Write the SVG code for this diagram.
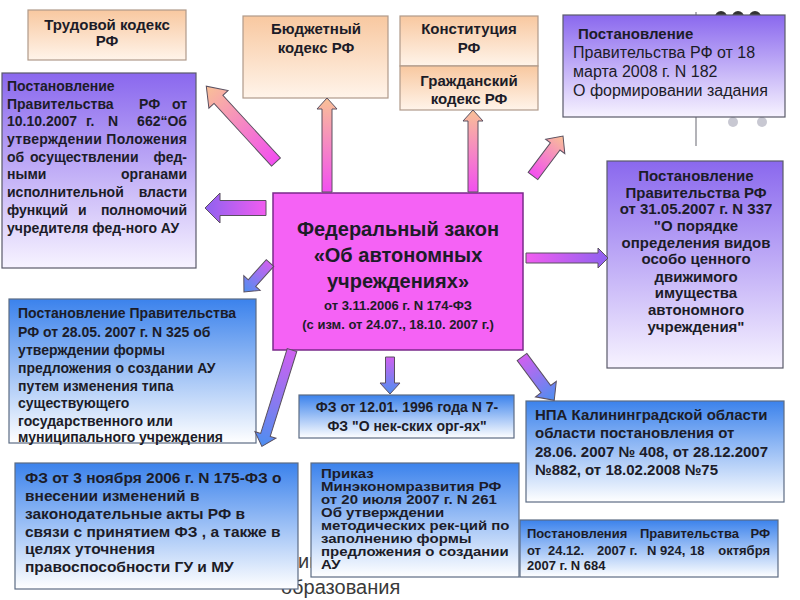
<svg xmlns="http://www.w3.org/2000/svg" width="800" height="600" viewBox="0 0 800 600">
<defs>
<linearGradient id="peach" x1="0" y1="0" x2="0" y2="1"><stop offset="0" stop-color="#f8c8a0"/><stop offset="1" stop-color="#fff4ea"/></linearGradient>
<linearGradient id="purple" x1="0" y1="0" x2="0" y2="1"><stop offset="0" stop-color="#8a68ee"/><stop offset="1" stop-color="#f7f3ff"/></linearGradient>
<linearGradient id="blue" x1="0" y1="0" x2="0" y2="1"><stop offset="0" stop-color="#3b82ec"/><stop offset="1" stop-color="#ffffff"/></linearGradient>
<linearGradient id="aPeach" x1="0" y1="0" x2="1" y2="0"><stop offset="0" stop-color="#f24ff0"/><stop offset="1" stop-color="#f9c196"/></linearGradient>
<linearGradient id="aPurp" x1="0" y1="0" x2="1" y2="0"><stop offset="0" stop-color="#f25cf0"/><stop offset="1" stop-color="#8e62f0"/></linearGradient>
<linearGradient id="aBlue" x1="0" y1="0" x2="1" y2="0"><stop offset="0" stop-color="#d060f0"/><stop offset="1" stop-color="#4d8ff0"/></linearGradient>
</defs>
<style>
text{font-family:"Liberation Sans",Arial,sans-serif;fill:#1c1c28;font-weight:bold}
text.n{font-weight:normal}
.pe{fill:url(#peach);stroke:#b09a8a;stroke-width:1.2}
.pu{fill:url(#purple);stroke:#5a5a6a;stroke-width:1.2}
.bl{fill:url(#blue);stroke:#5c6c84;stroke-width:1.2}
.c{text-anchor:middle}
.e{text-anchor:end}
.arr path{stroke:#5a5060;stroke-width:1}
text.bg{font-weight:normal;fill:#3a3a3a;font-size:20px}
</style>

<g id="background">
<line x1="696" y1="12" x2="696" y2="146" stroke="#9a9aa0" stroke-width="1.5"/>
<circle cx="721" cy="17" r="6" fill="#333"/>
<circle cx="738" cy="17" r="6" fill="#333"/>
<circle cx="755" cy="17" r="6" fill="#333"/>
<circle cx="733" cy="122" r="5" fill="#c8c8d2"/>
<circle cx="762" cy="122" r="5" fill="#c8c8d2"/>
<text class="bg" x="298" y="568">ии</text>
<text class="bg" x="281" y="594">образования</text>
</g>

<g id="trudovoy">
<rect class="pe" x="28" y="10" width="158" height="50"/>
<text class="c" x="107" y="30" font-size="15">Трудовой кодекс</text>
<text class="c" x="107" y="46" font-size="15">РФ</text>
</g>

<g id="byudzhet">
<rect class="pe" x="243" y="16" width="145" height="82"/>
<text class="c" x="316" y="34" font-size="15">Бюджетный</text>
<text class="c" x="316" y="53" font-size="15">кодекс РФ</text>
</g>

<g id="konstitutsiya">
<rect class="pe" x="400" y="16" width="138" height="50"/>
<text class="c" x="469" y="34" font-size="15">Конституция</text>
<text class="c" x="469" y="53" font-size="15">РФ</text>
</g>

<g id="grazhdansky">
<rect class="pe" x="400" y="66" width="138" height="44"/>
<text class="c" x="469" y="86" font-size="15">Гражданский</text>
<text class="c" x="469" y="104" font-size="15">кодекс РФ</text>
</g>

<g id="post182">
<rect class="pu" x="563" y="15" width="222" height="102"/>
<text x="578" y="39" font-size="15">Постановление</text>
<text class="n" x="573" y="58" font-size="16">Правительства РФ от 18</text>
<text class="n" x="573" y="77" font-size="16">марта 2008 г. N 182</text>
<text class="n" x="573" y="96" font-size="16">О формировании задания</text>
</g>

<g id="post662" font-size="14">
<rect class="pu" x="2" y="73" width="194" height="195"/>
<text x="7" y="91">Постановление</text>
<text x="7" y="109">Правительства</text><text x="139" y="109">РФ</text><text class="e" x="187" y="109">от</text>
<text x="7" y="126">10.10.2007</text><text x="86" y="126">г.</text><text x="108" y="126">N</text><text class="e" x="187" y="126">662“Об</text>
<text x="7" y="144" textLength="180" lengthAdjust="spacing">утверждении Положения</text>
<text x="7" y="162">об</text><text x="30" y="162">осуществлении</text><text class="e" x="187" y="162">фед-</text>
<text x="7" y="179">ными</text><text class="e" x="187" y="179">органами</text>
<text x="7" y="197">исполнительной</text><text class="e" x="187" y="197">власти</text>
<text x="7" y="215">функций</text><text x="78" y="215">и</text><text class="e" x="187" y="215">полномочий</text>
<text x="7" y="233">учредителя фед-ного АУ</text>
</g>

<g id="post337" font-size="15">
<rect class="pu" x="607" y="161" width="176" height="207"/>
<text class="c" x="696" y="181">Постановление</text>
<text class="c" x="696" y="198">Правительства РФ</text>
<text class="c" x="696" y="214">от 31.05.2007 г. N 337</text>
<text class="c" x="696" y="231">"О порядке</text>
<text class="c" x="696" y="248">определения видов</text>
<text class="c" x="696" y="264">особо ценного</text>
<text class="c" x="696" y="282">движимого</text>
<text class="c" x="696" y="298">имущества</text>
<text class="c" x="696" y="315">автономного</text>
<text class="c" x="696" y="332">учреждения"</text>
</g>

<g id="fz174">
<rect x="273" y="193" width="250" height="157" fill="#f562f5" stroke="#7a2a8a" stroke-width="1.5"/>
<text class="c" x="398" y="236" font-size="20">Федеральный закон</text>
<text class="c" x="398" y="262" font-size="20">«Об автономных</text>
<text class="c" x="398" y="288" font-size="20">учреждениях»</text>
<text class="c" x="398" y="310" font-size="13">от 3.11.2006 г. N 174-ФЗ</text>
<text class="c" x="398" y="329" font-size="13">(с изм. от 24.07., 18.10. 2007 г.)</text>
</g>

<g id="post325" font-size="14">
<rect class="bl" x="9" y="299" width="247" height="144"/>
<text x="18" y="318">Постановление Правительства</text>
<text x="18" y="337">РФ от 28.05. 2007 г. N 325 об</text>
<text x="18" y="355">утверждении формы</text>
<text x="18" y="373">предложения о создании АУ</text>
<text x="18" y="391">путем изменения типа</text>
<text x="18" y="408">существующего</text>
<text x="18" y="426">государственного или</text>
<text x="18" y="442">муниципального учреждения</text>
</g>

<g id="fz7" font-size="14">
<rect class="bl" x="299" y="395" width="215" height="43"/>
<text class="c" x="407" y="412">ФЗ от 12.01. 1996 года N 7-</text>
<text class="c" x="407" y="431">ФЗ "О нек-ских орг-ях"</text>
</g>

<g id="npa" font-size="15">
<rect class="bl" x="526" y="401" width="258" height="101"/>
<text x="535" y="420">НПА Калининградской области</text>
<text x="535" y="438">области постановления от</text>
<text x="535" y="457">28.06. 2007 № 408, от 28.12.2007</text>
<text x="535" y="475">№882, от 18.02.2008 №75</text>
</g>

<g id="fz175" font-size="15.5">
<rect class="bl" x="15" y="463" width="283" height="126"/>
<text x="25" y="483">ФЗ от 3 ноября 2006 г. N 175-ФЗ о</text>
<text x="25" y="501">внесении изменений в</text>
<text x="25" y="519">законодательные акты РФ в</text>
<text x="25" y="537">связи с принятием ФЗ , а также в</text>
<text x="25" y="554">целях уточнения</text>
<text x="25" y="572">правоспособности ГУ и МУ</text>
</g>

<g id="prikaz261">
<rect class="bl" x="311" y="463" width="208" height="114"/>
<g transform="translate(321,0) scale(1.25,1)" font-size="12">
<text x="0" y="478">Приказ</text>
<text x="0" y="491">Минэкономразвития РФ</text>
<text x="0" y="504">от 20 июля 2007 г. N 261</text>
<text x="0" y="517">Об утверждении</text>
<text x="0" y="530">методических рек-ций по</text>
<text x="0" y="543">заполнению формы</text>
<text x="0" y="556">предложения о создании</text>
<text x="0" y="569">АУ</text>
</g>
</g>

<g id="post924" font-size="13">
<rect class="bl" x="520" y="520" width="258" height="57"/>
<text x="527" y="538">Постановления</text><text x="640" y="538">Правительства</text><text class="e" x="770" y="538">РФ</text>
<text x="527" y="555">от</text><text x="548" y="555">24.12.</text><text x="597" y="555">2007 г.</text><text x="647" y="555">N 924,</text><text x="690" y="555">18</text><text class="e" x="770" y="555">октября</text>
<text x="527" y="570">2007 г. N 684</text>
</g>

<g id="connectors" class="arr">
<path transform="translate(276,162) rotate(-132.6)" fill="url(#aPeach)" d="M0,-6 L85,-6 L85,-13 L103,0 L85,13 L85,6 L0,6 Z"/>
<path transform="translate(266,208) rotate(180)" fill="url(#aPurp)" d="M0,-7.5 L46,-7.5 L46,-15 L61,0 L46,15 L46,7.5 L0,7.5 Z"/>
<path transform="translate(270,263) rotate(131.9)" fill="url(#aBlue)" d="M0,-5 L27,-5 L27,-11 L39,0 L27,11 L27,5 L0,5 Z"/>
<path transform="translate(327,192) rotate(-90)" fill="url(#aPeach)" d="M0,-5 L83,-5 L83,-10 L94,0 L83,10 L83,5 L0,5 Z"/>
<path transform="translate(473,192) rotate(-90)" fill="url(#aPeach)" d="M0,-5 L71,-5 L71,-10 L82,0 L71,10 L71,5 L0,5 Z"/>
<path transform="translate(533,176) rotate(-53.1)" fill="url(#aPeach)" d="M0,-6 L37,-6 L37,-12 L50,0 L37,12 L37,6 L0,6 Z"/>
<path transform="translate(526,258)" fill="url(#aPurp)" d="M0,-5 L72,-5 L72,-10 L82,0 L72,10 L72,5 L0,5 Z"/>
<path transform="translate(292,350) rotate(107.35)" fill="url(#aBlue)" d="M0,-5 L89,-5 L89,-11 L101,0 L89,11 L89,5 L0,5 Z"/>
<path transform="translate(390,357) rotate(90)" fill="url(#aBlue)" d="M0,-4.5 L26,-4.5 L26,-10 L37,0 L26,10 L26,4.5 L0,4.5 Z"/>
<path transform="translate(522,357) rotate(53.35)" fill="url(#aBlue)" d="M0,-6 L40,-6 L40,-13 L54,0 L40,13 L40,6 L0,6 Z"/>
</g>
</svg>
